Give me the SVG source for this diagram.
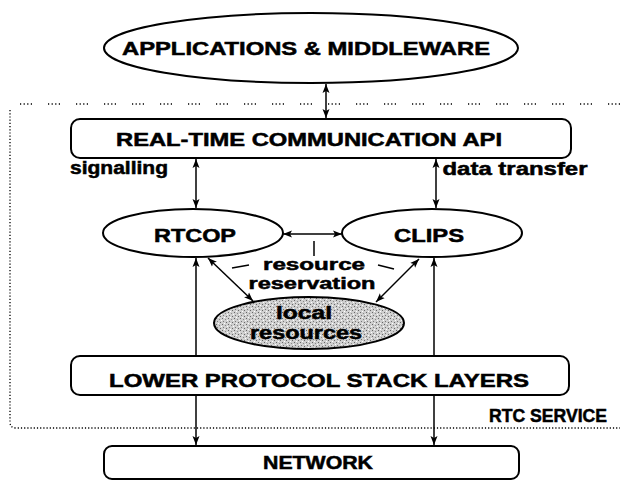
<svg xmlns="http://www.w3.org/2000/svg" width="622" height="485" viewBox="0 0 622 485">
<style>
.shape{fill:#fff;stroke:#000;stroke-width:2}
.t{font-family:"Liberation Sans",Arial,sans-serif;font-weight:bold;font-size:18px;fill:#000;stroke:#000;stroke-width:0.5;text-anchor:middle}
.s{font-size:16px}
.ln{stroke:#000;stroke-width:1.5;fill:none}
.dot{stroke:#000;stroke-width:1.3;fill:none}
</style>
<defs>
<marker id="ah" markerWidth="10" markerHeight="8" refX="9" refY="4" orient="auto-start-reverse" markerUnits="userSpaceOnUse">
<path d="M0,0.5 L9,4 L0,7.5 L2,4 z" fill="#000"/>
</marker>
<pattern id="stip" width="6" height="6" patternUnits="userSpaceOnUse">
<rect width="6" height="6" fill="#cfcfcf"/>
<rect x="0" y="0" width="1" height="1" fill="#666"/>
<rect x="3" y="1" width="1" height="1" fill="#888"/>
<rect x="1" y="3" width="1" height="1" fill="#777"/>
<rect x="4" y="4" width="1" height="1" fill="#666"/>
<rect x="5" y="2" width="1" height="1" fill="#fff"/>
<rect x="2" y="5" width="1" height="1" fill="#fff"/>
</pattern>
</defs>

<g id="boundary">
<path class="dot" d="M620,104 L16,104 Q10,104 10,110" stroke-dasharray="1.2 2.4 1.2 2.4 1.2 2.4 1.2 16"/>
<path class="dot" d="M10,110 L10,422 Q10,428 16,428 L620,428" stroke-dasharray="1.2 2"/>
</g>

<g id="connectors">
<line class="ln" x1="326" y1="84" x2="326" y2="118" marker-start="url(#ah)" marker-end="url(#ah)"/>
<line class="ln" x1="196" y1="159" x2="196" y2="208" marker-start="url(#ah)" marker-end="url(#ah)"/>
<line class="ln" x1="436" y1="159" x2="436" y2="208" marker-start="url(#ah)" marker-end="url(#ah)"/>
<line class="ln" x1="283" y1="234" x2="342" y2="234" marker-start="url(#ah)" marker-end="url(#ah)"/>
<line class="ln" x1="208" y1="258" x2="253" y2="301" marker-start="url(#ah)" marker-end="url(#ah)"/>
<line class="ln" x1="419" y1="259" x2="376" y2="302" marker-start="url(#ah)" marker-end="url(#ah)"/>
<line class="ln" x1="196" y1="355" x2="196" y2="258" marker-end="url(#ah)"/>
<line class="ln" x1="434" y1="355" x2="434" y2="258" marker-end="url(#ah)"/>
<line class="ln" x1="196" y1="396" x2="196" y2="445" marker-end="url(#ah)"/>
<line class="ln" x1="434" y1="396" x2="434" y2="445" marker-end="url(#ah)"/>
<line class="ln" x1="314" y1="241" x2="314" y2="256"/>
<line class="ln" x1="232" y1="268" x2="249" y2="265"/>
<line class="ln" x1="378" y1="265" x2="394" y2="269"/>
</g>

<g id="applications">
<ellipse class="shape" cx="311" cy="48" rx="207" ry="35"/>
<text class="t" x="306" y="55" textLength="368" lengthAdjust="spacingAndGlyphs">APPLICATIONS &amp; MIDDLEWARE</text>
</g>

<g id="api">
<rect class="shape" x="71" y="119" width="500" height="39" rx="9"/>
<text class="t" x="309" y="146" textLength="386" lengthAdjust="spacingAndGlyphs">REAL-TIME COMMUNICATION API</text>
</g>

<g id="labels">
<text class="t" x="119" y="174" textLength="98" lengthAdjust="spacingAndGlyphs">signalling</text>
<text class="t" x="515" y="175" textLength="145" lengthAdjust="spacingAndGlyphs">data transfer</text>
<text class="t s" x="314" y="270" textLength="102" lengthAdjust="spacingAndGlyphs">resource</text>
<text class="t s" x="312" y="289" textLength="127" lengthAdjust="spacingAndGlyphs">reservation</text>
<text class="t" x="548" y="422" textLength="118" lengthAdjust="spacingAndGlyphs">RTC SERVICE</text>
</g>

<g id="rtcop">
<ellipse class="shape" cx="193" cy="233" rx="90" ry="24"/>
<text class="t" x="195" y="242" textLength="82" lengthAdjust="spacingAndGlyphs">RTCOP</text>
</g>

<g id="clips">
<ellipse class="shape" cx="432" cy="233" rx="90" ry="24"/>
<text class="t" x="429" y="242" textLength="70" lengthAdjust="spacingAndGlyphs">CLIPS</text>
</g>

<g id="local-resources">
<ellipse cx="309" cy="323" rx="95" ry="26" fill="url(#stip)" stroke="#000" stroke-width="2"/>
<text class="t" x="304" y="319" textLength="56" lengthAdjust="spacingAndGlyphs">local</text>
<text class="t" x="306" y="339" textLength="112" lengthAdjust="spacingAndGlyphs">resources</text>
</g>

<g id="lower-stack">
<rect class="shape" x="71" y="356" width="498" height="39" rx="9"/>
<text class="t" x="319" y="387" textLength="420" lengthAdjust="spacingAndGlyphs">LOWER PROTOCOL STACK LAYERS</text>
</g>

<g id="network">
<rect class="shape" x="104" y="446" width="415" height="33" rx="8"/>
<text class="t" x="318" y="469" textLength="110" lengthAdjust="spacingAndGlyphs">NETWORK</text>
</g>
</svg>
